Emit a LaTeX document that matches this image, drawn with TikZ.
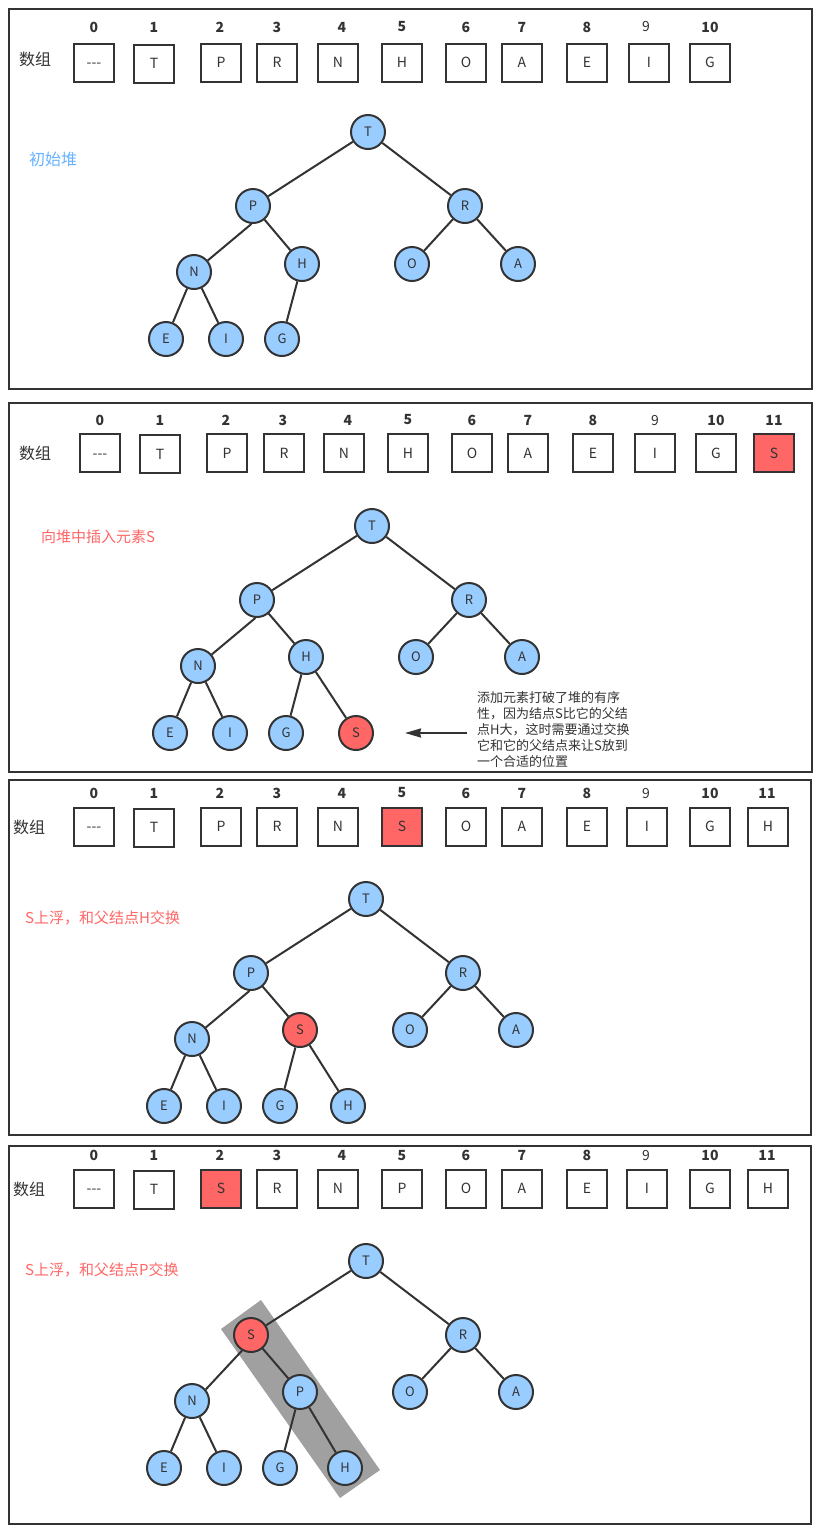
\documentclass[tikz,border=0pt]{standalone}
\usepackage{fontspec}
\setmainfont{Noto Sans CJK SC}
\usetikzlibrary{arrows.meta}
\definecolor{ln}{HTML}{333333}
\definecolor{nodeblue}{HTML}{99CCFF}
\definecolor{hotred}{HTML}{FF6666}
\definecolor{bluetext}{HTML}{66B2FF}
\definecolor{grayband}{HTML}{A0A0A0}
\begin{document}
\begin{tikzpicture}[x=1pt,y=-1pt,
  cell/.style={draw=ln, line width=2pt, minimum width=40pt, minimum height=38pt, inner sep=0pt, text height=10pt, text depth=0pt, font=\fontsize{14}{14}\selectfont, text=ln},
  hot/.style={fill=hotred},
  num/.style={font=\fontsize{14}{14}\selectfont\bfseries, text=ln, inner sep=0pt},
  numlight/.style={font=\fontsize{14}{14}\selectfont, text=ln, inner sep=0pt},
  vtx/.style={circle, draw=ln, line width=2pt, fill=nodeblue, minimum size=34pt, inner sep=0pt, text height=9pt, text depth=0pt, font=\fontsize{13}{13}\selectfont, text=ln},
  hotvtx/.style={vtx, fill=hotred},
  edge/.style={draw=ln, line width=2pt},
  frame/.style={draw=ln, line width=2pt},
  lbl/.style={anchor=west, inner sep=0pt, font=\fontsize{15}{15}\selectfont},
  arr/.style={anchor=west, inner sep=0pt, font=\fontsize{16}{16}\selectfont, text=ln},
  note/.style={anchor=north west, inner sep=0pt, align=left, font=\fontsize{13}{16}\selectfont, text=ln}
]
\useasboundingbox (0,0) rectangle (821,1535);
\fill[white] (0,0) rectangle (821,1535);

% ---------------- Panel 1 ----------------
\draw[frame] (9,9) rectangle (812,389);
\node[arr] (a-label) at (19,59) {数组};
\foreach \n/\x in {0/94,1/154,2/220,3/277,4/342,5/402,6/466,7/522,8/587,10/710}
  \node[num] (a-n\n) at (\x,27) {\n};
\node[numlight] (a-n9) at (646,27) {9};
\node[cell] (a-c0) at (94,62.5) {-{}-{}-};
\node[cell] (a-c1) at (154,63.5) {T};
\foreach \n/\x/\t in {2/221/P,3/277/R,4/338/N,5/402/H,6/466/O,7/522/A,8/587/E,9/649/I,10/710/G}
  \node[cell] (a-c\n) at (\x,62.5) {\t};
\node[lbl, text=bluetext, font=\fontsize{16}{16}\selectfont] (a-title) at (29,159) {初始堆};
\node[vtx] (aT) at (368,132) {T};
\node[vtx] (aP) at (253,206) {P};
\node[vtx] (aR) at (465,206) {R};
\node[vtx] (aN) at (194,272) {N};
\node[vtx] (aH) at (302,264) {H};
\node[vtx] (aO) at (412,264) {O};
\node[vtx] (aA) at (518,264) {A};
\node[vtx] (aE) at (166,339) {E};
\node[vtx] (aI) at (226,339) {I};
\node[vtx] (aG) at (282,339) {G};
\foreach \u/\v in {T/P,T/R,P/H,R/O,R/A,N/E,N/I,H/G}
  \draw[edge] (a\u) -- (a\v);
\draw[edge] (aP.-95) -- (aN.40);

% ---------------- Panel 2 ----------------
\draw[frame] (9,403) rectangle (812,772);
\node[arr] (b-label) at (19,453) {数组};
\foreach \n/\x in {0/100,1/160,2/226,3/283,4/348,5/408,6/472,7/528,8/593,10/716,11/774}
  \node[num] (b-n\n) at (\x,420) {\n};
\node[numlight] (b-n9) at (655,420) {9};
\node[cell] (b-c0) at (100,453) {-{}-{}-};
\node[cell] (b-c1) at (160,454) {T};
\foreach \n/\x/\t in {2/227/P,3/284/R,4/344/N,5/408/H,6/472/O,7/528/A,8/593/E,9/655/I,10/716/G}
  \node[cell] (b-c\n) at (\x,453) {\t};
\node[cell, hot] (b-c11) at (774,453) {S};
\node[lbl, text=hotred] (b-title) at (41,537) {向堆中插入元素S};
\node[vtx] (bT) at (372,526) {T};
\node[vtx] (bP) at (257,600) {P};
\node[vtx] (bR) at (469,600) {R};
\node[vtx] (bN) at (198,666) {N};
\node[vtx] (bH) at (306,657) {H};
\node[vtx] (bO) at (416,657) {O};
\node[vtx] (bA) at (522,657) {A};
\node[vtx] (bE) at (170,733) {E};
\node[vtx] (bI) at (230,733) {I};
\node[vtx] (bG) at (286,733) {G};
\node[hotvtx] (bS) at (356,733) {S};
\foreach \u/\v in {T/P,T/R,P/H,R/O,R/A,N/E,N/I,H/G,H/S}
  \draw[edge] (b\u) -- (b\v);
\draw[edge] (bP.-95) -- (bN.40);
\node[note] (b-note) at (477,691) {添加元素打破了堆的有序\\性，因为结点S比它的父结\\点H大，这时需要通过交换\\它和它的父结点来让S放到\\一个合适的位置};
\coordinate (b-arrfrom) at (467,733);
\coordinate (b-arrto) at (405,733);
\draw[draw=ln, line width=2pt, -{Stealth[length=16pt,width=9pt,inset=1pt]}] (b-arrfrom) -- (b-arrto);

% ---------------- Panel 3 ----------------
\draw[frame] (9,780) rectangle (811,1135);
\node[arr] (c-label) at (13,827) {数组};
\foreach \n/\x in {0/94,1/154,2/220,3/277,4/342,5/402,6/466,7/522,8/587,10/710,11/767}
  \node[num] (c-n\n) at (\x,793) {\n};
\node[numlight] (c-n9) at (646,793) {9};
\node[cell] (c-c0) at (94,826.5) {-{}-{}-};
\node[cell] (c-c1) at (154,827.5) {T};
\foreach \n/\x/\t in {2/221/P,3/277/R,4/338/N,6/466/O,7/522/A,8/587/E,9/647/I,10/710/G,11/768/H}
  \node[cell] (c-c\n) at (\x,826.5) {\t};
\node[cell, hot] (c-c5) at (402,826.5) {S};
\node[lbl, text=hotred] (c-title) at (25,918) {S上浮，和父结点H交换};
\node[vtx] (cT) at (366,899) {T};
\node[vtx] (cP) at (251,973) {P};
\node[vtx] (cR) at (463,973) {R};
\node[vtx] (cN) at (192,1039) {N};
\node[hotvtx] (cS) at (300,1030) {S};
\node[vtx] (cO) at (410,1030) {O};
\node[vtx] (cA) at (516,1030) {A};
\node[vtx] (cE) at (164,1106) {E};
\node[vtx] (cI) at (224,1106) {I};
\node[vtx] (cG) at (280,1106) {G};
\node[vtx] (cH) at (348,1106) {H};
\foreach \u/\v in {T/P,T/R,P/S,R/O,R/A,N/E,N/I,S/G,S/H}
  \draw[edge] (c\u) -- (c\v);
\draw[edge] (cP.-95) -- (cN.40);

% ---------------- Panel 4 ----------------
\draw[frame] (9,1146) rectangle (811,1524);
\node[arr] (d-label) at (13,1189) {数组};
\foreach \n/\x in {0/94,1/154,2/220,3/277,4/342,5/402,6/466,7/522,8/587,10/710,11/767}
  \node[num] (d-n\n) at (\x,1155) {\n};
\node[numlight] (d-n9) at (646,1155) {9};
\node[cell] (d-c0) at (94,1188.5) {-{}-{}-};
\node[cell] (d-c1) at (154,1189.5) {T};
\foreach \n/\x/\t in {3/277/R,4/338/N,5/402/P,6/466/O,7/522/A,8/587/E,9/647/I,10/710/G,11/768/H}
  \node[cell] (d-c\n) at (\x,1188.5) {\t};
\node[cell, hot] (d-c2) at (221,1188.5) {S};
\node[lbl, text=hotred] (d-title) at (25,1270) {S上浮，和父结点P交换};
\fill[grayband] (221,1329) -- (261,1300) -- (380,1470) -- (340,1498) -- cycle;
\node[vtx] (dT) at (366,1261) {T};
\node[hotvtx] (dS) at (251,1335) {S};
\node[vtx] (dR) at (463,1335) {R};
\node[vtx] (dN) at (192,1401) {N};
\node[vtx] (dP) at (300,1392) {P};
\node[vtx] (dO) at (410,1392) {O};
\node[vtx] (dA) at (516,1392) {A};
\node[vtx] (dE) at (164,1468) {E};
\node[vtx] (dI) at (224,1468) {I};
\node[vtx] (dG) at (280,1468) {G};
\node[vtx] (dH) at (345,1468) {H};
\foreach \u/\v in {T/S,T/R,S/P,R/O,R/A,N/E,N/I,P/G,P/H}
  \draw[edge] (d\u) -- (d\v);
\draw[edge] (dS.-120) -- (dN.40);
\end{tikzpicture}
\end{document}
